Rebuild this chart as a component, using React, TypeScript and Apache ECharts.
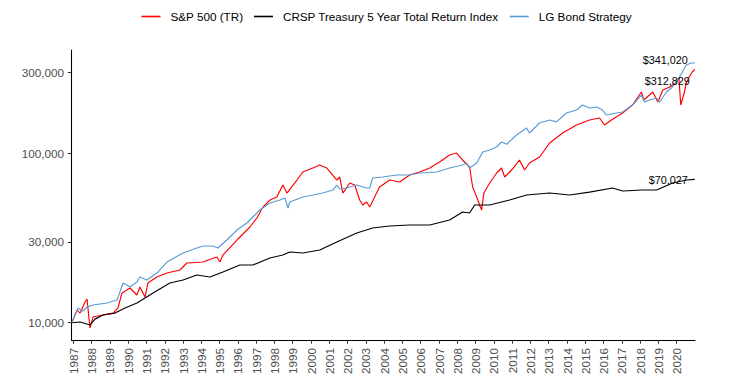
import React, { useEffect, useRef } from "react";
import * as echarts from "echarts";

const FONT = "'Liberation Sans', Arial, Helvetica, sans-serif";

const seriesNames = [
  "S&P 500 (TR)",
  "CRSP Treasury 5 Year Total Return Index",
  "LG Bond Strategy",
];
const seriesColors = ["#FF0000", "#000000", "#5B9BD5"];

const yearTicks = [
  1987, 1988, 1989, 1990, 1991, 1992, 1993, 1994, 1995, 1996, 1997, 1998,
  1999, 2000, 2001, 2002, 2003, 2004, 2005, 2006, 2007, 2008, 2009, 2010,
  2011, 2012, 2013, 2014, 2015, 2016, 2017, 2018, 2019, 2020,
];
const valueTicks = [10000, 30000, 100000, 300000];

// [decimal year, growth of $10,000]
const sp500: [number, number][] = [
  [1986.92, 10000], [1987.2, 11900], [1987.37, 11400], [1987.64, 13250], [1987.75, 13800],
  [1987.91, 9300], [1988.08, 10800], [1988.62, 11100], [1989.17, 11400], [1989.44, 12200],
  [1989.66, 14970], [1989.93, 15600], [1990.1, 16030], [1990.48, 14570], [1990.64, 16240],
  [1990.92, 14170], [1991.08, 17150], [1991.57, 18600], [1992.12, 19640], [1992.83, 20460],
  [1993.21, 22500], [1994.09, 22810], [1994.85, 24410], [1995.02, 22810], [1995.18, 25080],
  [1995.95, 30750], [1996.66, 36700], [1997.04, 41470], [1997.37, 48150], [1997.75, 52930],
  [1998.13, 55140], [1998.46, 64920], [1998.68, 58210], [1999.23, 69480], [1999.55, 77450],
  [2000.1, 81780], [2000.48, 85180], [2000.86, 81780], [2001.19, 74360], [2001.41, 69480],
  [2001.57, 72370], [2001.74, 58210], [2002.12, 66710], [2002.39, 64920], [2002.66, 52930],
  [2002.83, 49470], [2003.04, 51520], [2003.21, 48150], [2003.75, 63180], [2004.3, 69480],
  [2004.85, 67620], [2005.39, 74360], [2005.94, 77450], [2006.49, 81780], [2007.03, 88730],
  [2007.58, 97590], [2007.96, 100280], [2008.29, 91180], [2008.67, 82900], [2008.84, 63180],
  [2009.06, 55140], [2009.22, 49470], [2009.33, 46230], [2009.45, 58000], [2009.77, 66710],
  [2010.15, 76410], [2010.42, 81780], [2010.59, 72370], [2010.97, 79590], [2011.4, 91180],
  [2011.68, 79590], [2011.95, 87530], [2012.5, 94970], [2013.05, 114860], [2013.76, 131610],
  [2014.52, 146680], [2015.23, 157000], [2015.78, 161340], [2016.05, 146680], [2016.43, 157000],
  [2017.04, 172670], [2017.58, 192480], [2018.07, 229640], [2018.2, 206000], [2018.69, 229640],
  [2018.97, 200480], [2019.24, 235970], [2019.62, 245780], [2020.0, 263050], [2020.12, 277730],
  [2020.22, 192480], [2020.41, 226550], [2020.52, 259500], [2020.68, 281540], [2020.85, 301400],
  [2020.99, 312829],
];

const crsp: [number, number][] = [
  [1986.92, 10000], [1987.37, 10100], [1987.91, 9700], [1988.19, 10500], [1988.62, 11100],
  [1989.28, 11400], [1989.83, 12200], [1990.48, 13070], [1991.36, 14970], [1992.28, 17150],
  [1993.0, 17860], [1993.76, 19110], [1994.47, 18600], [1995.18, 19910], [1996.11, 21900],
  [1996.82, 21900], [1997.75, 24080], [1998.46, 25080], [1998.84, 26130], [1999.55, 25780],
  [2000.48, 26850], [2001.41, 29930], [2002.5, 33820], [2003.37, 36200], [2004.3, 37200],
  [2005.39, 37710], [2006.49, 37710], [2007.58, 40360], [2008.29, 45000], [2008.67, 44380],
  [2008.95, 49470], [2009.77, 49470], [2010.86, 52930], [2011.79, 56650], [2013.05, 58210],
  [2014.14, 56650], [2015.23, 59000], [2016.49, 62330], [2017.04, 59840], [2018.13, 60660],
  [2018.9, 60660], [2019.77, 66710], [2020.54, 69480], [2020.99, 70027],
];

const lgBond: [number, number][] = [
  [1986.92, 10000], [1987.26, 12200], [1987.53, 11700], [1987.75, 12380], [1988.08, 12720],
  [1988.84, 13070], [1989.39, 13610], [1989.72, 17150], [1990.1, 16240], [1990.48, 17390],
  [1990.64, 18600], [1991.02, 17860], [1991.57, 19640], [1992.12, 22810], [1993.0, 25780],
  [1993.76, 27590], [1994.09, 28350], [1994.63, 28350], [1994.91, 27590], [1995.4, 30750],
  [1995.95, 35230], [1996.49, 38750], [1996.82, 42040], [1997.2, 46230], [1997.75, 50830],
  [1998.3, 52930], [1998.57, 54400], [1998.74, 47500], [1998.84, 51520], [1999.55, 55140],
  [2000.1, 56650], [2000.64, 58210], [2001.19, 60660], [2001.41, 64920], [2001.57, 61500],
  [2001.95, 62330], [2002.5, 64920], [2003.04, 62330], [2003.21, 62330], [2003.37, 71400],
  [2003.92, 72370], [2004.68, 74360], [2005.39, 74360], [2005.94, 76410], [2006.87, 77450],
  [2007.58, 81780], [2008.29, 85180], [2008.51, 87530], [2008.67, 81780], [2009.06, 87530],
  [2009.39, 101650], [2009.77, 104450], [2010.15, 108800], [2010.42, 116430], [2010.7, 113000],
  [2011.24, 128080], [2011.79, 140830], [2011.95, 131610], [2012.5, 150720], [2013.05, 157000],
  [2013.42, 153000], [2013.97, 172670], [2014.52, 179850], [2014.85, 192480], [2015.23, 184800],
  [2015.61, 187330], [2015.94, 179850], [2016.16, 168040], [2016.71, 172670], [2017.04, 175000],
  [2017.58, 192480], [2018.07, 220480], [2018.24, 200480], [2018.51, 206000], [2018.9, 211680],
  [2019.07, 200480], [2019.44, 229640], [2019.77, 245780], [2020.15, 281540], [2020.31, 301400],
  [2020.52, 331500], [2020.79, 340600], [2020.99, 341020],
];

const seriesData = [sp500, crsp, lgBond];
// label offsets for end-value annotations [dx, dy]
const endLabelOffsets: [number, number][] = [[2, 12], [0, 1], [0, -3]];

const fmtMoney = (v: number) => "$" + Math.round(v).toLocaleString("en-US");

export default function App() {
  const ref = useRef<HTMLDivElement>(null);
  useEffect(() => {
    if (!ref.current) return;
    const chart = echarts.init(ref.current, null, { renderer: "svg" });
    const logTicks = valueTicks.map((v) => Math.log10(v));
    const option: any = {
      animation: false,
      backgroundColor: "#ffffff",
      textStyle: { fontFamily: FONT },
      legend: {
        data: seriesNames.map((n) => ({ name: n, icon: "rect" })),
        left: 141.5,
        top: 10.5,
        padding: 0,
        itemWidth: 19,
        itemHeight: 1.6,
        itemGap: 10.7,
        textStyle: { fontSize: 11.7, color: "#000", fontFamily: FONT, padding: [0, 0, 0, 5] },
      },
      grid: { left: 71.5, right: 41, top: 50, bottom: 49, containLabel: false },
      xAxis: {
        type: "value",
        min: 1986.9,
        max: 2021.0,
        axisLine: { show: true, onZero: false, lineStyle: { color: "#000", width: 1.07 } },
        axisTick: { show: true, customValues: yearTicks, length: 3.7, lineStyle: { color: "#333", width: 1.07 } },
        axisLabel: {
          customValues: yearTicks,
          rotate: 90,
          margin: 8,
          fontSize: 11.7,
          color: "#4D4D4D",
          fontFamily: FONT,
          formatter: (v: number) => String(Math.round(v)),
        },
        splitLine: { show: false },
      },
      yAxis: {
        type: "value",
        min: 3.898,
        max: 5.609,
        axisLine: { show: true, onZero: false, lineStyle: { color: "#000", width: 1.07 } },
        axisTick: { show: true, customValues: logTicks, length: 3.7, lineStyle: { color: "#333", width: 1.07 } },
        axisLabel: {
          customValues: logTicks,
          margin: 7.5,
          fontSize: 11.7,
          color: "#4D4D4D",
          fontFamily: FONT,
          formatter: (v: number) => Math.round(Math.pow(10, v)).toLocaleString("en-US"),
        },
        splitLine: { show: false },
      },
      series: seriesData.map((d, i) => {
        const last = d[d.length - 1];
        return {
          name: seriesNames[i],
          type: "line",
          symbol: "none",
          color: seriesColors[i],
          itemStyle: { color: seriesColors[i] },
          lineStyle: { color: seriesColors[i], width: 1.15 },
          data: d.map(([t, v]) => [t, Math.log10(v)]),
          markPoint: {
            symbol: "circle",
            symbolSize: 0,
            silent: true,
            data: [{ coord: [last[0], Math.log10(last[1])], value: last[1] }],
            label: {
              show: true,
              position: "left",
              distance: 7,
              offset: endLabelOffsets[i],
              color: "#000",
              fontSize: 10.8,
              fontFamily: FONT,
              formatter: (p: any) => fmtMoney(p.value),
            },
          },
        };
      }),
    };
    chart.setOption(option);
    return () => chart.dispose();
  }, []);
  return (
    <div
      ref={ref}
      style={{ position: "fixed", left: 0, top: 0, width: 736, height: 389, background: "#fff" }}
    />
  );
}
